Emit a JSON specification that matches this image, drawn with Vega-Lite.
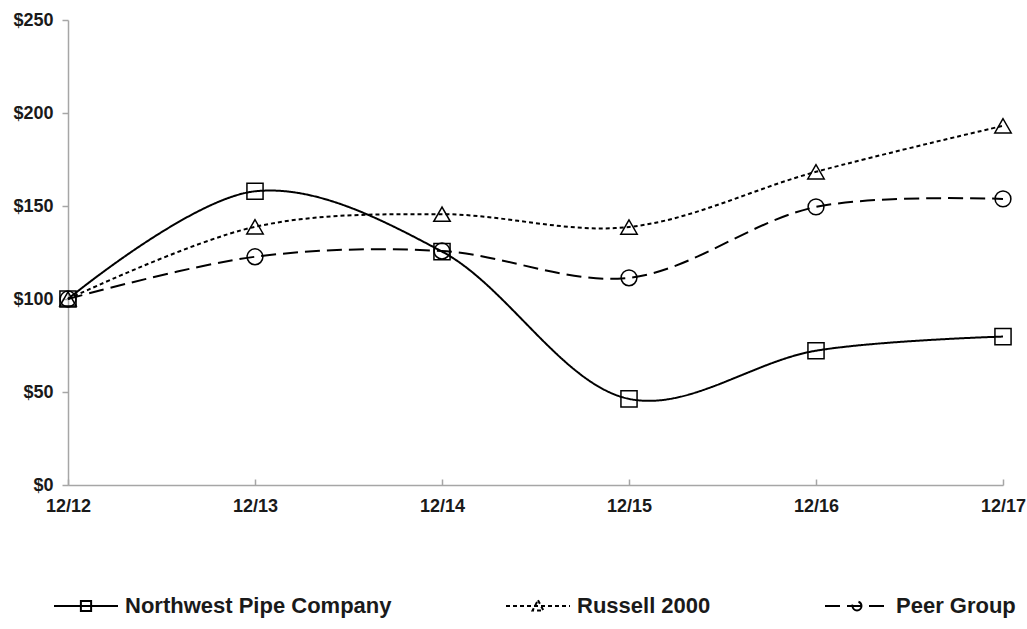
{
  "$schema": "https://vega.github.io/schema/vega-lite/v6.json",
  "width": 935,
  "height": 465,
  "autosize": {"type": "none"},
  "padding": {"left": 68, "top": 20, "right": 24, "bottom": 144},
  "background": "white",
  "config": {
    "view": {"stroke": null},
    "font": "Liberation Sans",
    "axis": {
      "domainColor": "#a6a6a6",
      "domainWidth": 1.5,
      "tickColor": "#a6a6a6",
      "tickWidth": 1.5,
      "labelFont": "Liberation Sans",
      "labelFontWeight": "bold",
      "labelColor": "#1a1a1a",
      "grid": false,
      "title": null
    }
  },
  "data": {
    "values": [
      {"series": "Northwest Pipe Company", "date": "12/12", "value": 100},
      {"series": "Northwest Pipe Company", "date": "12/13", "value": 157.9},
      {"series": "Northwest Pipe Company", "date": "12/14", "value": 125.5},
      {"series": "Northwest Pipe Company", "date": "12/15", "value": 46.3},
      {"series": "Northwest Pipe Company", "date": "12/16", "value": 72.2},
      {"series": "Northwest Pipe Company", "date": "12/17", "value": 79.8},
      {"series": "Russell 2000", "date": "12/12", "value": 100},
      {"series": "Russell 2000", "date": "12/13", "value": 138.8},
      {"series": "Russell 2000", "date": "12/14", "value": 145.6},
      {"series": "Russell 2000", "date": "12/15", "value": 138.7},
      {"series": "Russell 2000", "date": "12/16", "value": 168.4},
      {"series": "Russell 2000", "date": "12/17", "value": 193.1},
      {"series": "Peer Group", "date": "12/12", "value": 100},
      {"series": "Peer Group", "date": "12/13", "value": 122.7},
      {"series": "Peer Group", "date": "12/14", "value": 125.8},
      {"series": "Peer Group", "date": "12/15", "value": 111.4},
      {"series": "Peer Group", "date": "12/16", "value": 149.5},
      {"series": "Peer Group", "date": "12/17", "value": 153.8}
    ]
  },
  "encoding": {
    "x": {
      "field": "date",
      "type": "ordinal",
      "sort": null,
      "scale": {"type": "point", "padding": 0},
      "axis": {"labelAngle": 0, "labelFontSize": 18, "tickSize": -6, "labelPadding": 27, "labelBaseline": "middle"}
    },
    "y": {
      "field": "value",
      "type": "quantitative",
      "scale": {"domain": [0, 250], "nice": false},
      "axis": {"values": [0, 50, 100, 150, 200, 250], "format": "$,d", "labelFontSize": 18, "tickSize": 6, "labelPadding": 9}
    }
  },
  "layer": [
    {
      "mark": {"type": "line", "interpolate": "catmull-rom", "color": "black", "strokeWidth": 2},
      "encoding": {
        "detail": {"field": "series"},
        "strokeDash": {
          "field": "series",
          "type": "nominal",
          "scale": {
            "domain": ["Northwest Pipe Company", "Russell 2000", "Peer Group"],
            "range": [[1, 0], [4, 3], [15, 7]]
          },
          "legend": {
            "title": null,
            "orient": "none",
            "direction": "horizontal",
            "legendX": -15,
            "legendY": 553,
            "symbolSize": 4096,
            "symbolStrokeWidth": 2,
            "symbolStrokeColor": "black",
            "symbolFillColor": "transparent",
            "labelFont": "Liberation Sans",
            "labelFontSize": 22,
            "labelFontWeight": "bold",
            "labelColor": "#1a1a1a",
            "labelOffset": 6,
            "columnPadding": 110,
            "labelLimit": 400,
            "encode": {
              "symbols": {
                "update": {
                  "shape": {"signal": "datum.value === 'Northwest Pipe Company' ? 'M-1,0H1M-0.16,-0.16H0.16V0.16H-0.16Z' : datum.value === 'Russell 2000' ? 'M-1,0H1M0,-0.18L0.17,0.14H-0.17Z' : 'M-1,0H1M0.14,0A0.14,0.14 0 1 1 -0.14,0A0.14,0.14 0 1 1 0.14,0'"},
                  "fill": {"value": "transparent"}
                }
              }
            }
          }
        }
      }
    },
    {
      "transform": [{"filter": "datum.series === 'Northwest Pipe Company'"}],
      "mark": {"type": "point", "shape": "square", "filled": false, "color": "black", "strokeWidth": 1.5, "size": 260, "opacity": 1}
    },
    {
      "transform": [{"filter": "datum.series === 'Russell 2000'"}],
      "mark": {"type": "point", "shape": "triangle-up", "filled": false, "color": "black", "strokeWidth": 1.5, "size": 270, "opacity": 1}
    },
    {
      "transform": [{"filter": "datum.series === 'Peer Group'"}],
      "mark": {"type": "point", "shape": "circle", "filled": false, "color": "black", "strokeWidth": 1.5, "size": 250, "opacity": 1}
    }
  ]
}
